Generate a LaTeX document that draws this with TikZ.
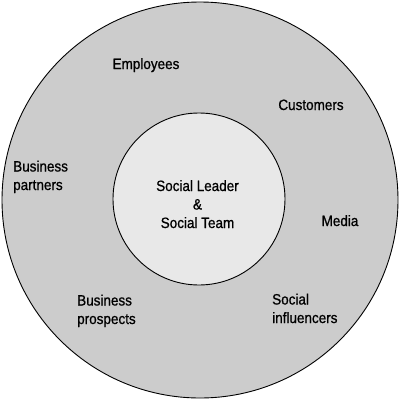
\documentclass[tikz,border=0pt]{standalone}
\usepackage{fontspec}
\setmainfont{Liberation Sans}[FakeStretch=0.9,FakeBold=0.8]
\begin{document}
\begin{tikzpicture}[x=1pt,y=-1pt,
  lbl/.style={inner sep=0pt,font=\fontsize{15}{18.5}\selectfont,text=black},
  ring/.style={draw=black,line width=0.9pt}]
\useasboundingbox (0,0) rectangle (400,400);
\node[ring,circle,fill=black!20,minimum size=396pt,inner sep=0pt] (outer) at (200,200) {};
\node[ring,circle,fill=black!9,minimum size=172pt,inner sep=0pt] (inner) at (199,199) {};
\node[lbl,anchor=base,align=center] (core) at (197.5,228) {Social Leader\\\&\\Social Team};
\node[lbl,anchor=base] (emp) at (146,69) {Employees};
\node[lbl,anchor=base] (cust) at (311,110) {Customers};
\node[lbl,anchor=base] (media) at (340,226) {Media};
\node[lbl,anchor=base west,align=left] (partners) at (13,190) {Business\\partners};
\node[lbl,anchor=base west,align=left] (prospects) at (77,324) {Business\\prospects};
\node[lbl,anchor=base west,align=left] (influencers) at (272,323) {Social\\influencers};
\end{tikzpicture}
\end{document}
